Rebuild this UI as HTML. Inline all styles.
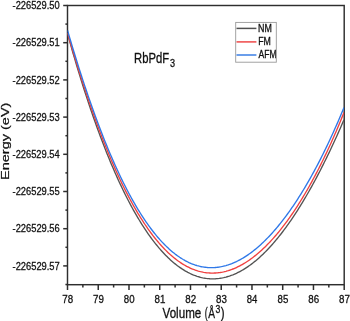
<!DOCTYPE html>
<html><head><meta charset="utf-8"><style>
html,body{margin:0;padding:0;background:#fff;}
svg{display:block;will-change:transform;}
text{font-family:"Liberation Sans",sans-serif;fill:#111;stroke:#111;stroke-width:0.3px;}
</style></head><body>
<svg width="350" height="321" viewBox="0 0 350 321">
<rect width="350" height="321" fill="#fff"/>
<g stroke="#2e2e2e" stroke-width="1.45" fill="none">
<rect x="67.5" y="5.5" width="276.7" height="279.2"/>
</g>
<g stroke="#2e2e2e" stroke-width="1.5" fill="none"><line x1="67.50" y1="284.7" x2="67.50" y2="290" /><line x1="82.87" y1="284.7" x2="82.87" y2="287.5" /><line x1="98.24" y1="284.7" x2="98.24" y2="290" /><line x1="113.62" y1="284.7" x2="113.62" y2="287.5" /><line x1="128.99" y1="284.7" x2="128.99" y2="290" /><line x1="144.36" y1="284.7" x2="144.36" y2="287.5" /><line x1="159.73" y1="284.7" x2="159.73" y2="290" /><line x1="175.11" y1="284.7" x2="175.11" y2="287.5" /><line x1="190.48" y1="284.7" x2="190.48" y2="290" /><line x1="205.85" y1="284.7" x2="205.85" y2="287.5" /><line x1="221.22" y1="284.7" x2="221.22" y2="290" /><line x1="236.59" y1="284.7" x2="236.59" y2="287.5" /><line x1="251.97" y1="284.7" x2="251.97" y2="290" /><line x1="267.34" y1="284.7" x2="267.34" y2="287.5" /><line x1="282.71" y1="284.7" x2="282.71" y2="290" /><line x1="298.08" y1="284.7" x2="298.08" y2="287.5" /><line x1="313.46" y1="284.7" x2="313.46" y2="290" /><line x1="328.83" y1="284.7" x2="328.83" y2="287.5" /><line x1="344.20" y1="284.7" x2="344.20" y2="290" /><line x1="63.2" y1="5.50" x2="67.5" y2="5.50" /><line x1="65.4" y1="24.10" x2="67.5" y2="24.10" /><line x1="63.2" y1="42.70" x2="67.5" y2="42.70" /><line x1="65.4" y1="61.30" x2="67.5" y2="61.30" /><line x1="63.2" y1="79.90" x2="67.5" y2="79.90" /><line x1="65.4" y1="98.50" x2="67.5" y2="98.50" /><line x1="63.2" y1="117.10" x2="67.5" y2="117.10" /><line x1="65.4" y1="135.70" x2="67.5" y2="135.70" /><line x1="63.2" y1="154.30" x2="67.5" y2="154.30" /><line x1="65.4" y1="172.90" x2="67.5" y2="172.90" /><line x1="63.2" y1="191.50" x2="67.5" y2="191.50" /><line x1="65.4" y1="210.10" x2="67.5" y2="210.10" /><line x1="63.2" y1="228.70" x2="67.5" y2="228.70" /><line x1="65.4" y1="247.30" x2="67.5" y2="247.30" /><line x1="63.2" y1="265.90" x2="67.5" y2="265.90" /><line x1="65.4" y1="284.50" x2="67.5" y2="284.50" /></g>
<text transform="translate(12.53,9.10) scale(0.818,1)" font-size="11.40">-226529.50</text>
<text transform="translate(12.53,46.30) scale(0.820,1)" font-size="11.40">-226529.51</text>
<text transform="translate(12.53,83.50) scale(0.820,1)" font-size="11.40">-226529.52</text>
<text transform="translate(12.53,120.70) scale(0.820,1)" font-size="11.40">-226529.53</text>
<text transform="translate(12.53,157.90) scale(0.818,1)" font-size="11.40">-226529.54</text>
<text transform="translate(12.53,195.10) scale(0.820,1)" font-size="11.40">-226529.55</text>
<text transform="translate(12.53,232.30) scale(0.820,1)" font-size="11.40">-226529.56</text>
<text transform="translate(12.53,269.50) scale(0.820,1)" font-size="11.40">-226529.57</text>
<text transform="translate(62.31,303.20) scale(0.843,1)" font-size="11.60">78</text>
<text transform="translate(93.06,303.20) scale(0.843,1)" font-size="11.60">79</text>
<text transform="translate(123.81,303.20) scale(0.833,1)" font-size="11.60">80</text>
<text transform="translate(154.54,303.20) scale(0.843,1)" font-size="11.60">81</text>
<text transform="translate(185.29,303.20) scale(0.843,1)" font-size="11.60">82</text>
<text transform="translate(216.03,303.20) scale(0.843,1)" font-size="11.60">83</text>
<text transform="translate(246.79,303.20) scale(0.823,1)" font-size="11.60">84</text>
<text transform="translate(277.53,303.20) scale(0.833,1)" font-size="11.60">85</text>
<text transform="translate(308.27,303.20) scale(0.843,1)" font-size="11.60">86</text>
<text transform="translate(339.01,303.20) scale(0.843,1)" font-size="11.60">87</text>
<text transform="translate(162.55,318.00) scale(0.837,1)" font-size="13.90">Volume</text>
<text transform="translate(204.75,318.00) scale(0.630,1)" font-size="13.90">(</text>
<text transform="translate(208.20,318.00) scale(0.728,1)" font-size="13.90">Å</text>
<text transform="translate(215.58,313.00) scale(0.855,1)" font-size="10.10">3</text>
<text transform="translate(220.86,318.00) scale(0.822,1)" font-size="13.90">)</text>
<text transform="translate(134.11,62.90) scale(0.817,1)" font-size="13.80">RbPdF</text>
<text transform="translate(169.96,67.00) scale(0.888,1)" font-size="10.20">3</text>
<text transform="translate(258.02,32.00) scale(0.878,1)" font-size="10.10">NM</text>
<text transform="translate(258.13,45.00) scale(0.870,1)" font-size="10.10">FM</text>
<text transform="translate(258.60,57.80) scale(0.851,1)" font-size="10.10">AFM</text>

<text transform="translate(9.30,180.02) rotate(-90) scale(1,0.778)" font-size="14.53">Energy (eV)</text>
<clipPath id="c"><rect x="67.5" y="5.5" width="276.7" height="279.2"/></clipPath>
<g clip-path="url(#c)">
<path d="M67.50,33.58 L68.66,37.74 L69.81,41.86 L70.97,45.94 L72.13,49.98 L73.28,53.97 L74.44,57.93 L75.60,61.85 L76.76,65.73 L77.91,69.57 L79.07,73.37 L80.23,77.13 L81.38,80.86 L82.54,84.54 L83.70,88.19 L84.85,91.79 L86.01,95.36 L87.17,98.89 L88.32,102.38 L89.48,105.84 L90.64,109.25 L91.79,112.63 L92.95,115.97 L94.11,119.28 L95.27,122.54 L96.42,125.77 L97.58,128.96 L98.74,132.11 L99.89,135.23 L101.05,138.31 L102.21,141.35 L103.36,144.36 L104.52,147.33 L105.68,150.26 L106.83,153.16 L107.99,156.02 L109.15,158.85 L110.31,161.64 L111.46,164.39 L112.62,167.11 L113.78,169.79 L114.93,172.44 L116.09,175.05 L117.25,177.62 L118.40,180.17 L119.56,182.67 L120.72,185.14 L121.87,187.58 L123.03,189.98 L124.19,192.35 L125.35,194.68 L126.50,196.98 L127.66,199.24 L128.82,201.47 L129.97,203.67 L131.13,205.83 L132.29,207.96 L133.44,210.05 L134.60,212.11 L135.76,214.14 L136.91,216.13 L138.07,218.09 L139.23,220.02 L140.38,221.91 L141.54,223.78 L142.70,225.60 L143.86,227.40 L145.01,229.16 L146.17,230.89 L147.33,232.59 L148.48,234.26 L149.64,235.89 L150.80,237.49 L151.95,239.06 L153.11,240.60 L154.27,242.10 L155.42,243.58 L156.58,245.02 L157.74,246.43 L158.90,247.81 L160.05,249.16 L161.21,250.47 L162.37,251.76 L163.52,253.01 L164.68,254.24 L165.84,255.43 L166.99,256.59 L168.15,257.72 L169.31,258.82 L170.46,259.89 L171.62,260.93 L172.78,261.94 L173.94,262.92 L175.09,263.86 L176.25,264.78 L177.41,265.67 L178.56,266.53 L179.72,267.36 L180.88,268.16 L182.03,268.93 L183.19,269.67 L184.35,270.38 L185.50,271.06 L186.66,271.71 L187.82,272.34 L188.97,272.93 L190.13,273.49 L191.29,274.03 L192.45,274.54 L193.60,275.02 L194.76,275.47 L195.92,275.89 L197.07,276.28 L198.23,276.64 L199.39,276.98 L200.54,277.29 L201.70,277.57 L202.86,277.82 L204.01,278.04 L205.17,278.24 L206.33,278.41 L207.49,278.55 L208.64,278.66 L209.80,278.75 L210.96,278.80 L212.11,278.83 L213.27,278.84 L214.43,278.81 L215.58,278.76 L216.74,278.68 L217.90,278.58 L219.05,278.45 L220.21,278.29 L221.37,278.10 L222.53,277.89 L223.68,277.65 L224.84,277.38 L226.00,277.09 L227.15,276.77 L228.31,276.42 L229.47,276.05 L230.62,275.65 L231.78,275.23 L232.94,274.78 L234.09,274.30 L235.25,273.80 L236.41,273.28 L237.56,272.72 L238.72,272.14 L239.88,271.54 L241.04,270.91 L242.19,270.25 L243.35,269.57 L244.51,268.86 L245.66,268.13 L246.82,267.37 L247.98,266.59 L249.13,265.78 L250.29,264.95 L251.45,264.09 L252.60,263.21 L253.76,262.30 L254.92,261.37 L256.08,260.42 L257.23,259.43 L258.39,258.43 L259.55,257.40 L260.70,256.34 L261.86,255.26 L263.02,254.16 L264.17,253.03 L265.33,251.88 L266.49,250.70 L267.64,249.50 L268.80,248.28 L269.96,247.03 L271.12,245.76 L272.27,244.46 L273.43,243.14 L274.59,241.80 L275.74,240.43 L276.90,239.04 L278.06,237.63 L279.21,236.19 L280.37,234.73 L281.53,233.24 L282.68,231.73 L283.84,230.20 L285.00,228.65 L286.15,227.07 L287.31,225.47 L288.47,223.85 L289.63,222.20 L290.78,220.53 L291.94,218.84 L293.10,217.12 L294.25,215.38 L295.41,213.62 L296.57,211.84 L297.72,210.03 L298.88,208.20 L300.04,206.35 L301.19,204.47 L302.35,202.57 L303.51,200.66 L304.67,198.71 L305.82,196.75 L306.98,194.76 L308.14,192.75 L309.29,190.72 L310.45,188.67 L311.61,186.59 L312.76,184.50 L313.92,182.38 L315.08,180.24 L316.23,178.07 L317.39,175.89 L318.55,173.68 L319.71,171.45 L320.86,169.20 L322.02,166.93 L323.18,164.64 L324.33,162.32 L325.49,159.98 L326.65,157.63 L327.80,155.25 L328.96,152.84 L330.12,150.42 L331.27,147.98 L332.43,145.51 L333.59,143.02 L334.74,140.51 L335.90,137.99 L337.06,135.43 L338.22,132.86 L339.37,130.27 L340.53,127.65 L341.69,125.02 L342.84,122.36 L344.00,119.69" stroke="#545454" stroke-width="1.35" fill="none"/>
<path d="M67.50,32.87 L68.66,36.86 L69.81,40.82 L70.97,44.74 L72.13,48.63 L73.28,52.49 L74.44,56.31 L75.60,60.09 L76.76,63.85 L77.91,67.57 L79.07,71.25 L80.23,74.90 L81.38,78.52 L82.54,82.10 L83.70,85.65 L84.85,89.16 L86.01,92.64 L87.17,96.08 L88.32,99.49 L89.48,102.87 L90.64,106.21 L91.79,109.51 L92.95,112.78 L94.11,116.02 L95.27,119.22 L96.42,122.39 L97.58,125.52 L98.74,128.62 L99.89,131.69 L101.05,134.72 L102.21,137.71 L103.36,140.67 L104.52,143.60 L105.68,146.49 L106.83,149.34 L107.99,152.16 L109.15,154.95 L110.31,157.71 L111.46,160.42 L112.62,163.11 L113.78,165.76 L114.93,168.37 L116.09,170.95 L117.25,173.50 L118.40,176.01 L119.56,178.49 L120.72,180.94 L121.87,183.35 L123.03,185.72 L124.19,188.07 L125.35,190.37 L126.50,192.65 L127.66,194.89 L128.82,197.10 L129.97,199.27 L131.13,201.41 L132.29,203.52 L133.44,205.59 L134.60,207.63 L135.76,209.64 L136.91,211.61 L138.07,213.55 L139.23,215.46 L140.38,217.33 L141.54,219.17 L142.70,220.98 L143.86,222.76 L145.01,224.50 L146.17,226.21 L147.33,227.89 L148.48,229.53 L149.64,231.14 L150.80,232.73 L151.95,234.27 L153.11,235.79 L154.27,237.28 L155.42,238.73 L156.58,240.15 L157.74,241.54 L158.90,242.90 L160.05,244.22 L161.21,245.52 L162.37,246.78 L163.52,248.02 L164.68,249.22 L165.84,250.39 L166.99,251.53 L168.15,252.64 L169.31,253.72 L170.46,254.77 L171.62,255.78 L172.78,256.77 L173.94,257.73 L175.09,258.65 L176.25,259.55 L177.41,260.42 L178.56,261.26 L179.72,262.06 L180.88,262.84 L182.03,263.59 L183.19,264.31 L184.35,265.00 L185.50,265.66 L186.66,266.30 L187.82,266.90 L188.97,267.47 L190.13,268.02 L191.29,268.54 L192.45,269.03 L193.60,269.49 L194.76,269.92 L195.92,270.32 L197.07,270.70 L198.23,271.05 L199.39,271.37 L200.54,271.66 L201.70,271.92 L202.86,272.16 L204.01,272.37 L205.17,272.55 L206.33,272.71 L207.49,272.84 L208.64,272.94 L209.80,273.01 L210.96,273.06 L212.11,273.08 L213.27,273.08 L214.43,273.04 L215.58,272.99 L216.74,272.90 L217.90,272.79 L219.05,272.65 L220.21,272.49 L221.37,272.30 L222.53,272.09 L223.68,271.85 L224.84,271.58 L226.00,271.29 L227.15,270.97 L228.31,270.63 L229.47,270.26 L230.62,269.86 L231.78,269.45 L232.94,269.00 L234.09,268.53 L235.25,268.04 L236.41,267.52 L237.56,266.98 L238.72,266.41 L239.88,265.82 L241.04,265.20 L242.19,264.56 L243.35,263.89 L244.51,263.20 L245.66,262.48 L246.82,261.74 L247.98,260.98 L249.13,260.19 L250.29,259.38 L251.45,258.54 L252.60,257.68 L253.76,256.80 L254.92,255.89 L256.08,254.96 L257.23,254.00 L258.39,253.02 L259.55,252.01 L260.70,250.99 L261.86,249.93 L263.02,248.86 L264.17,247.76 L265.33,246.64 L266.49,245.49 L267.64,244.32 L268.80,243.12 L269.96,241.91 L271.12,240.66 L272.27,239.40 L273.43,238.11 L274.59,236.80 L275.74,235.46 L276.90,234.10 L278.06,232.71 L279.21,231.31 L280.37,229.87 L281.53,228.42 L282.68,226.94 L283.84,225.44 L285.00,223.91 L286.15,222.36 L287.31,220.78 L288.47,219.18 L289.63,217.56 L290.78,215.91 L291.94,214.24 L293.10,212.55 L294.25,210.83 L295.41,209.08 L296.57,207.32 L297.72,205.52 L298.88,203.70 L300.04,201.86 L301.19,200.00 L302.35,198.10 L303.51,196.19 L304.67,194.25 L305.82,192.28 L306.98,190.29 L308.14,188.27 L309.29,186.23 L310.45,184.16 L311.61,182.06 L312.76,179.94 L313.92,177.80 L315.08,175.63 L316.23,173.43 L317.39,171.21 L318.55,168.96 L319.71,166.68 L320.86,164.37 L322.02,162.04 L323.18,159.69 L324.33,157.30 L325.49,154.89 L326.65,152.45 L327.80,149.98 L328.96,147.49 L330.12,144.96 L331.27,142.41 L332.43,139.83 L333.59,137.22 L334.74,134.58 L335.90,131.91 L337.06,129.22 L338.22,126.49 L339.37,123.73 L340.53,120.95 L341.69,118.13 L342.84,115.28 L344.00,112.40" stroke="#f04040" stroke-width="1.35" fill="none"/>
<path d="M67.50,30.29 L68.66,34.24 L69.81,38.16 L70.97,42.05 L72.13,45.90 L73.28,49.73 L74.44,53.51 L75.60,57.27 L76.76,60.99 L77.91,64.68 L79.07,68.33 L80.23,71.95 L81.38,75.54 L82.54,79.10 L83.70,82.61 L84.85,86.10 L86.01,89.55 L87.17,92.97 L88.32,96.35 L89.48,99.70 L90.64,103.02 L91.79,106.30 L92.95,109.55 L94.11,112.76 L95.27,115.94 L96.42,119.08 L97.58,122.19 L98.74,125.27 L99.89,128.31 L101.05,131.32 L102.21,134.29 L103.36,137.23 L104.52,140.13 L105.68,143.00 L106.83,145.84 L107.99,148.64 L109.15,151.41 L110.31,154.14 L111.46,156.84 L112.62,159.50 L113.78,162.13 L114.93,164.73 L116.09,167.29 L117.25,169.82 L118.40,172.31 L119.56,174.77 L120.72,177.19 L121.87,179.59 L123.03,181.94 L124.19,184.27 L125.35,186.56 L126.50,188.81 L127.66,191.03 L128.82,193.22 L129.97,195.38 L131.13,197.50 L132.29,199.59 L133.44,201.64 L134.60,203.66 L135.76,205.65 L136.91,207.60 L138.07,209.53 L139.23,211.41 L140.38,213.27 L141.54,215.09 L142.70,216.88 L143.86,218.64 L145.01,220.36 L146.17,222.05 L147.33,223.71 L148.48,225.34 L149.64,226.93 L150.80,228.49 L151.95,230.02 L153.11,231.52 L154.27,232.98 L155.42,234.42 L156.58,235.82 L157.74,237.19 L158.90,238.52 L160.05,239.83 L161.21,241.11 L162.37,242.35 L163.52,243.56 L164.68,244.74 L165.84,245.89 L166.99,247.01 L168.15,248.10 L169.31,249.16 L170.46,250.18 L171.62,251.18 L172.78,252.15 L173.94,253.08 L175.09,253.99 L176.25,254.86 L177.41,255.71 L178.56,256.52 L179.72,257.31 L180.88,258.06 L182.03,258.79 L183.19,259.49 L184.35,260.15 L185.50,260.79 L186.66,261.40 L187.82,261.98 L188.97,262.53 L190.13,263.05 L191.29,263.55 L192.45,264.01 L193.60,264.45 L194.76,264.86 L195.92,265.24 L197.07,265.59 L198.23,265.91 L199.39,266.21 L200.54,266.48 L201.70,266.72 L202.86,266.93 L204.01,267.12 L205.17,267.27 L206.33,267.40 L207.49,267.51 L208.64,267.59 L209.80,267.64 L210.96,267.66 L212.11,267.65 L213.27,267.62 L214.43,267.57 L215.58,267.48 L216.74,267.38 L217.90,267.24 L219.05,267.08 L220.21,266.89 L221.37,266.68 L222.53,266.44 L223.68,266.17 L224.84,265.88 L226.00,265.57 L227.15,265.22 L228.31,264.86 L229.47,264.47 L230.62,264.05 L231.78,263.61 L232.94,263.14 L234.09,262.65 L235.25,262.13 L236.41,261.59 L237.56,261.02 L238.72,260.43 L239.88,259.82 L241.04,259.18 L242.19,258.51 L243.35,257.83 L244.51,257.11 L245.66,256.38 L246.82,255.62 L247.98,254.83 L249.13,254.02 L250.29,253.19 L251.45,252.34 L252.60,251.46 L253.76,250.55 L254.92,249.63 L256.08,248.68 L257.23,247.70 L258.39,246.71 L259.55,245.69 L260.70,244.64 L261.86,243.57 L263.02,242.48 L264.17,241.37 L265.33,240.23 L266.49,239.07 L267.64,237.89 L268.80,236.68 L269.96,235.45 L271.12,234.20 L272.27,232.93 L273.43,231.63 L274.59,230.31 L275.74,228.96 L276.90,227.59 L278.06,226.20 L279.21,224.79 L280.37,223.35 L281.53,221.89 L282.68,220.41 L283.84,218.90 L285.00,217.38 L286.15,215.82 L287.31,214.25 L288.47,212.65 L289.63,211.03 L290.78,209.39 L291.94,207.72 L293.10,206.03 L294.25,204.31 L295.41,202.58 L296.57,200.82 L297.72,199.03 L298.88,197.22 L300.04,195.39 L301.19,193.54 L302.35,191.66 L303.51,189.76 L304.67,187.83 L305.82,185.89 L306.98,183.91 L308.14,181.91 L309.29,179.89 L310.45,177.85 L311.61,175.78 L312.76,173.68 L313.92,171.57 L315.08,169.42 L316.23,167.25 L317.39,165.06 L318.55,162.84 L319.71,160.60 L320.86,158.33 L322.02,156.04 L323.18,153.72 L324.33,151.38 L325.49,149.01 L326.65,146.61 L327.80,144.19 L328.96,141.74 L330.12,139.27 L331.27,136.77 L332.43,134.24 L333.59,131.68 L334.74,129.10 L335.90,126.49 L337.06,123.86 L338.22,121.19 L339.37,118.50 L340.53,115.78 L341.69,113.03 L342.84,110.26 L344.00,107.45" stroke="#2f78e8" stroke-width="1.35" fill="none"/>
</g>
<rect x="235.7" y="22.4" width="40.6" height="39.8" fill="none" stroke="#999" stroke-width="0.9"/>
<line x1="236.5" y1="28.4" x2="256.4" y2="28.4" stroke="#505050" stroke-width="1.5"/>
<line x1="236.5" y1="41.9" x2="256.4" y2="41.9" stroke="#ef4848" stroke-width="1.5"/>
<line x1="236.5" y1="55.0" x2="256.4" y2="55.0" stroke="#3a7ee4" stroke-width="1.5"/>
</svg>
</body></html>
